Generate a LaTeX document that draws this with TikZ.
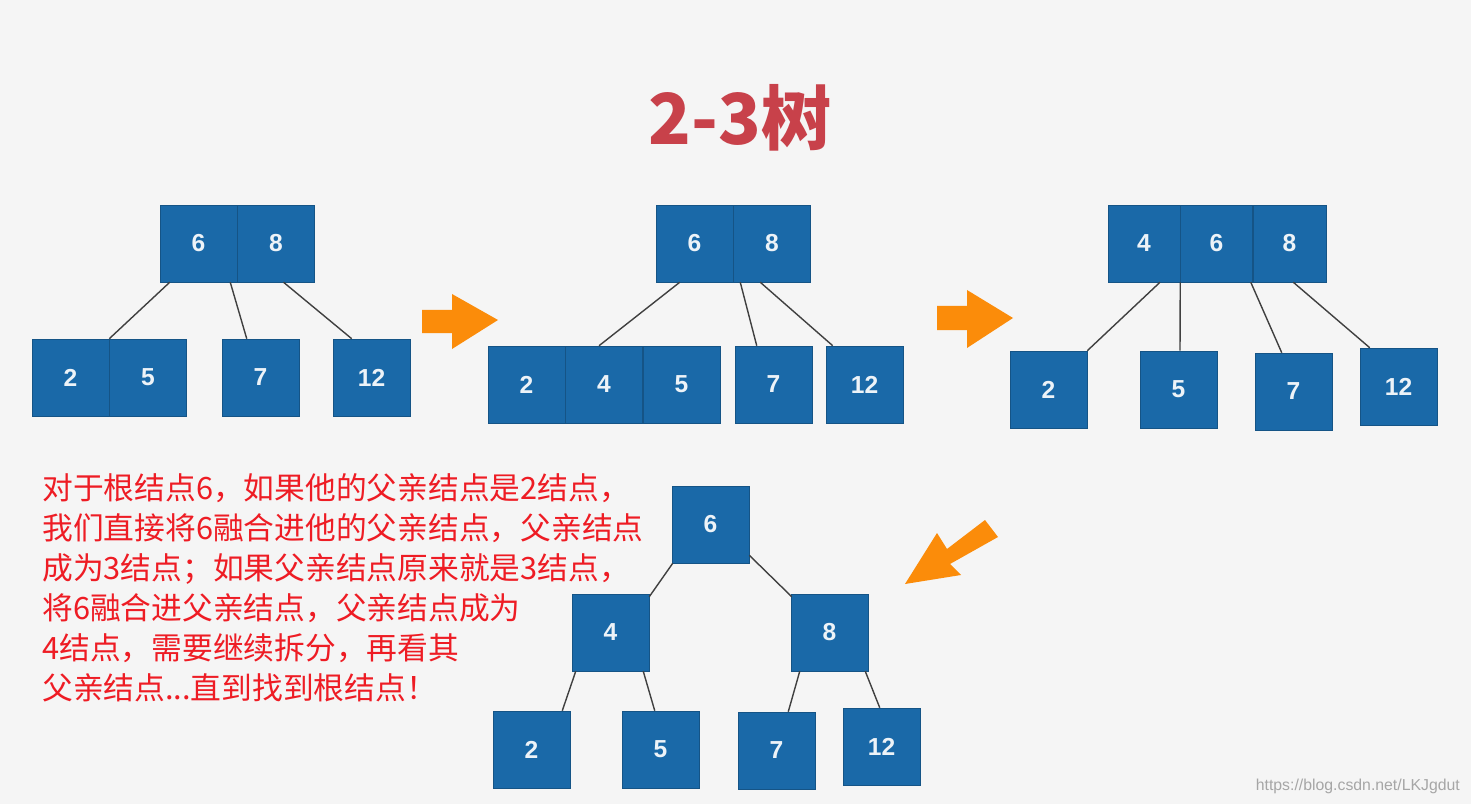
\documentclass[tikz,border=0pt]{standalone}
\usepackage{fontspec}
\setmainfont{Liberation Sans}
\newfontfamily\cjk{Noto Sans CJK SC}
\usetikzlibrary{positioning,calc}
\definecolor{boxblue}{HTML}{1A69A8}
\definecolor{titlered}{HTML}{C8414A}
\definecolor{textred}{HTML}{EE1C24}
\definecolor{arroworange}{HTML}{FB8C0A}

\begin{document}
\begin{tikzpicture}[x=0.02cm,y=-0.02cm]
    \tikzstyle{keybox}=[rectangle,fill=boxblue,draw=boxblue!80!black,line width=0.3pt,minimum size=1.54cm,inner sep=0pt,text=white!92!boxblue,font=\bfseries\fontsize{14}{14}\selectfont]
    \tikzstyle{link}=[draw=black!75,line width=0.8pt]
    \tikzstyle{bigarrow}=[fill=arroworange,draw=none]

    \fill[black!4] (0,0) rectangle (1471,804);
    \useasboundingbox (0,0) rectangle (1471,804);

    % Title
    \node[text=titlered,font=\cjk\bfseries\fontsize{40}{40}\selectfont] (title) at (740,118) {2-3树};

    % First tree
    \node[keybox] (A-6) at (198.5,243.5) {6};
    \node[keybox,right=0pt of A-6] (A-8) {8};
    \node[keybox] (A-2) at (70.5,377.5) {2};
    \node[keybox,right=0pt of A-2] (A-5) {5};
    \node[keybox] (A-7) at (260.5,377.5) {7};
    \node[keybox] (A-12) at (371.5,377.5) {12};
    \path[link] ($(A-6.south west)+(10,0)$) -- (A-2.north east);
    \path[link] ($(A-6.south east)+(-7,0)$) -- ($(A-7.north west)+(25,0)$);
    \path[link] ($(A-8.south)+(7.5,0)$) -- ($(A-12.north west)+(19,0)$);

    % Second tree
    \node[keybox] (B-6) at (694.5,243.5) {6};
    \node[keybox,right=0pt of B-6] (B-8) {8};
    \node[keybox] (B-2) at (526.5,384.5) {2};
    \node[keybox,right=0pt of B-2] (B-4) {4};
    \node[keybox,right=0pt of B-4] (B-5) {5};
    \node[keybox] (B-7) at (773.5,384.5) {7};
    \node[keybox] (B-12) at (864.5,384.5) {12};
    \path[link] ($(B-6.south west)+(24,0)$) -- ($(B-4.north)+(-5,0)$);
    \path[link] ($(B-6.south east)+(7,0)$) -- ($(B-7.north west)+(22,0)$);
    \path[link] ($(B-8.south west)+(27,0)$) -- ($(B-12.north west)+(7,0)$);

    % Third tree
    \node[keybox,minimum width=1.44cm] (C-4) at (1144,243.5) {4};
    \node[keybox,minimum width=1.44cm,right=0pt of C-4] (C-6) {6};
    \node[keybox,minimum width=1.46cm,right=0pt of C-6] (C-8) {8};
    \node[keybox] (C-2) at (1048.5,389.5) {2};
    \node[keybox] (C-5) at (1178.5,389.5) {5};
    \node[keybox] (C-7) at (1293.5,391.5) {7};
    \node[keybox] (C-12) at (1398.5,386.5) {12};
    \path[link] ($(C-4.south)+(16,0)$) -- (C-2.north east);
    \path[link] (C-6.south west) -- ($(C-5.north)+(1.5,0)$);
    \path[link] ($(C-6.south east)+(-2,0)$) -- ($(C-7.north west)+(27,0)$);
    \path[link] ($(C-8.south east)+(-33,0)$) -- ($(C-12.north west)+(10,0)$);

    % Fourth tree
    \node[keybox] (D-6) at (710.5,524.5) {6};
    \node[keybox] (D-4) at (610.5,632.5) {4};
    \node[keybox] (D-8) at (829.5,632.5) {8};
    \node[keybox] (D-2) at (531.5,749.5) {2};
    \node[keybox] (D-5) at (660.5,749.5) {5};
    \node[keybox] (D-7) at (776.5,750.5) {7};
    \node[keybox] (D-12) at (881.5,746.5) {12};
    \path[link] ($(D-6.south west)+(1,0)$) -- ($(D-4.north east)+(0,3)$);
    \path[link] ($(D-6.south east)+(0,-8)$) -- ($(D-8.north west)+(1,3)$);
    \path[link] ($(D-4.south west)+(4,0)$) -- ($(D-2.north east)+(-8,0)$);
    \path[link] ($(D-4.south east)+(-6,0)$) -- ($(D-5.north west)+(33,0)$);
    \path[link] ($(D-8.south west)+(9,0)$) -- ($(D-7.north east)+(-27,0)$);
    \path[link] ($(D-8.south east)+(-3,0)$) -- ($(D-12.north west)+(37,0)$);

    % Orange arrows
    \fill[bigarrow] (422,310) -- (452,310) -- (452,294) -- (498,320) -- (452,349) -- (452,333) -- (422,333) -- cycle;
    \fill[bigarrow] (937,306) -- (967,306) -- (967,290) -- (1013,318) -- (967,348) -- (967,330) -- (937,330) -- cycle;
    \fill[bigarrow] (998,537) -- (985,520) -- (947,549) -- (937,533) -- (905,584) -- (961,575) -- (950,564) -- cycle;

    % Explanation text
    \node[anchor=north west,align=left,text=textred,font=\cjk\fontsize{17.5}{22.8}\selectfont,inner sep=0pt] (note) at (42,473)
      {对于根结点6，如果他的父亲结点是2结点，\\
       我们直接将6融合进他的父亲结点，父亲结点\\
       成为3结点；如果父亲结点原来就是3结点，\\
       将6融合进父亲结点，父亲结点成为\\
       4结点，需要继续拆分，再看其\\
       父亲结点...直到找到根结点！};

    % Watermark
    \node[anchor=south east,text=black!35,font=\fontsize{9}{9}\selectfont] (mark) at (1466,800) {https://blog.csdn.net/LKJgdut};
\end{tikzpicture}
\end{document}
